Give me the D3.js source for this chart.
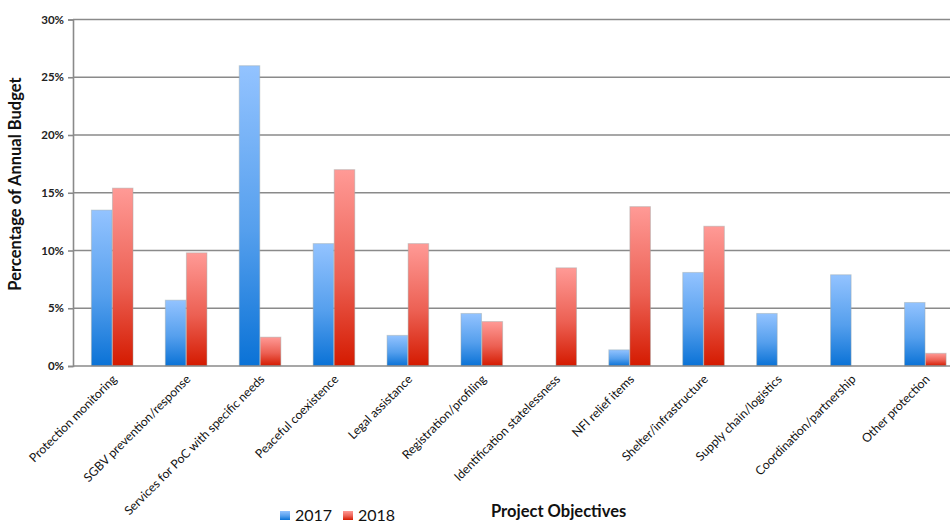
<!DOCTYPE html>
<html><head><meta charset="utf-8">
<script src="https://cdn.jsdelivr.net/npm/d3@7"></script>
<style>body{margin:0;background:#fff}svg{display:block}</style>
</head><body>
<svg id="c" width="950" height="523"></svg>
<script>
const categories = ["Protection monitoring","SGBV prevention/response","Services for PoC with specific needs","Peaceful coexistence","Legal assistance","Registration/profiling","Identification statelessness","NFI relief items","Shelter/infrastructure","Supply chain/logistics","Coordination/partnership","Other protection"];
const series = ["2017","2018"];
const values2017 = [13.5, 5.7, 26.0, 10.6, 2.65, 4.55, 0, 1.4, 8.1, 4.55, 7.9, 5.5];
const values2018 = [15.4, 9.8, 2.5, 17.0, 10.6, 3.85, 8.5, 13.8, 12.1, 0, 0, 1.1];
const yTicks = [0, 5, 10, 15, 20, 25, 30];

const svg = d3.select("#c");
const font = "Lato, 'Liberation Sans', sans-serif";
const defs = svg.append("defs");
const grads = [["gBlue", "#93c3ff", "#0a72d6"], ["gRed", "#ff9a96", "#d41a00"]];
grads.forEach(([id, top, bot]) => {
  const g = defs.append("linearGradient").attr("id", id).attr("x1", 0).attr("y1", 0).attr("x2", 0).attr("y2", 1);
  g.append("stop").attr("offset", "0%").attr("stop-color", top);
  g.append("stop").attr("offset", "55%").attr("stop-color", d3.interpolateRgb(top, bot)(0.45));
  g.append("stop").attr("offset", "100%").attr("stop-color", bot);
});

const x0 = d3.scaleBand().domain(categories).range([75.5, 962.5]).paddingInner(0.43).paddingOuter(0.215);
const x1 = d3.scaleBand().domain(series).range([0, x0.bandwidth()]);
const y = d3.scaleLinear().domain([0, 30]).range([366, 19.5]);

// gridlines
svg.append("g").selectAll("line").data(yTicks.filter(d => d > 0)).join("line")
  .attr("x1", 73).attr("x2", 950).attr("y1", d => y(d)).attr("y2", d => y(d))
  .attr("stroke", "#8a8a8a").attr("stroke-width", 1.6);

// y axis
const yAxis = svg.append("g").attr("transform", "translate(73,0)")
  .call(d3.axisLeft(y).tickValues(yTicks).tickFormat(d => d + "%").tickSize(5).tickPadding(4));
yAxis.select(".domain").attr("stroke", "#8a8a8a").attr("stroke-width", 1.6);
yAxis.selectAll(".tick line").attr("stroke", "#8a8a8a").attr("stroke-width", 1.6);
yAxis.selectAll("text").attr("font-family", font).attr("font-size", 11.5).attr("font-weight", "bold").attr("fill", "#222");

// bars
const data = categories.map((c, i) => ({c, v: [values2017[i], values2018[i]]}));
const groups = svg.append("g").selectAll("g").data(data).join("g")
  .attr("transform", d => `translate(${x0(d.c)},0)`);
groups.selectAll("rect").data(d => series.map((s, j) => ({s, v: d.v[j]})).filter(e => e.v > 0)).join("rect")
  .attr("x", e => x1(e.s)).attr("width", x1.bandwidth() - 0.5)
  .attr("y", e => y(e.v)).attr("height", e => y(0) - y(e.v))
  .attr("fill", e => e.s === "2017" ? "url(#gBlue)" : "url(#gRed)")
  .attr("stroke", "rgba(160,170,170,0.45)").attr("stroke-width", 1);

// x axis
const xAxis = svg.append("g").attr("transform", "translate(0,366)")
  .call(d3.axisBottom(x0).tickSize(0).tickPadding(0));
xAxis.select(".domain").attr("d", "M73,0H950").attr("stroke", "#8a8a8a").attr("stroke-width", 1.6);
xAxis.selectAll("text").attr("font-family", font).attr("font-size", 12.2).attr("fill", "#111")
  .attr("text-anchor", "end").attr("dy", 0).attr("y", 0)
  .attr("transform", "translate(5,14) rotate(-45)");

// y title
svg.append("text").attr("transform", "translate(21,184) rotate(-90)").attr("text-anchor", "middle")
  .attr("font-family", font).attr("font-size", 16.5).attr("font-weight", "bold").attr("fill", "#111")
  .text("Percentage of Annual Budget");

// x title
svg.append("text").attr("x", 491).attr("y", 517).attr("font-family", font).attr("font-size", 16.5)
  .attr("font-weight", "bold").attr("fill", "#111").text("Project Objectives");

// legend
const leg = svg.append("g");
const legX = [280, 343];
series.forEach((s, i) => {
  leg.append("rect").attr("x", legX[i]).attr("y", 511).attr("width", 10).attr("height", 9)
    .attr("fill", i === 0 ? "url(#gBlue)" : "url(#gRed)");
  leg.append("text").attr("x", legX[i] + 15).attr("y", 521).attr("font-family", font).attr("font-size", 16)
    .attr("fill", "#111").text(s);
});
</script>
</body></html>
